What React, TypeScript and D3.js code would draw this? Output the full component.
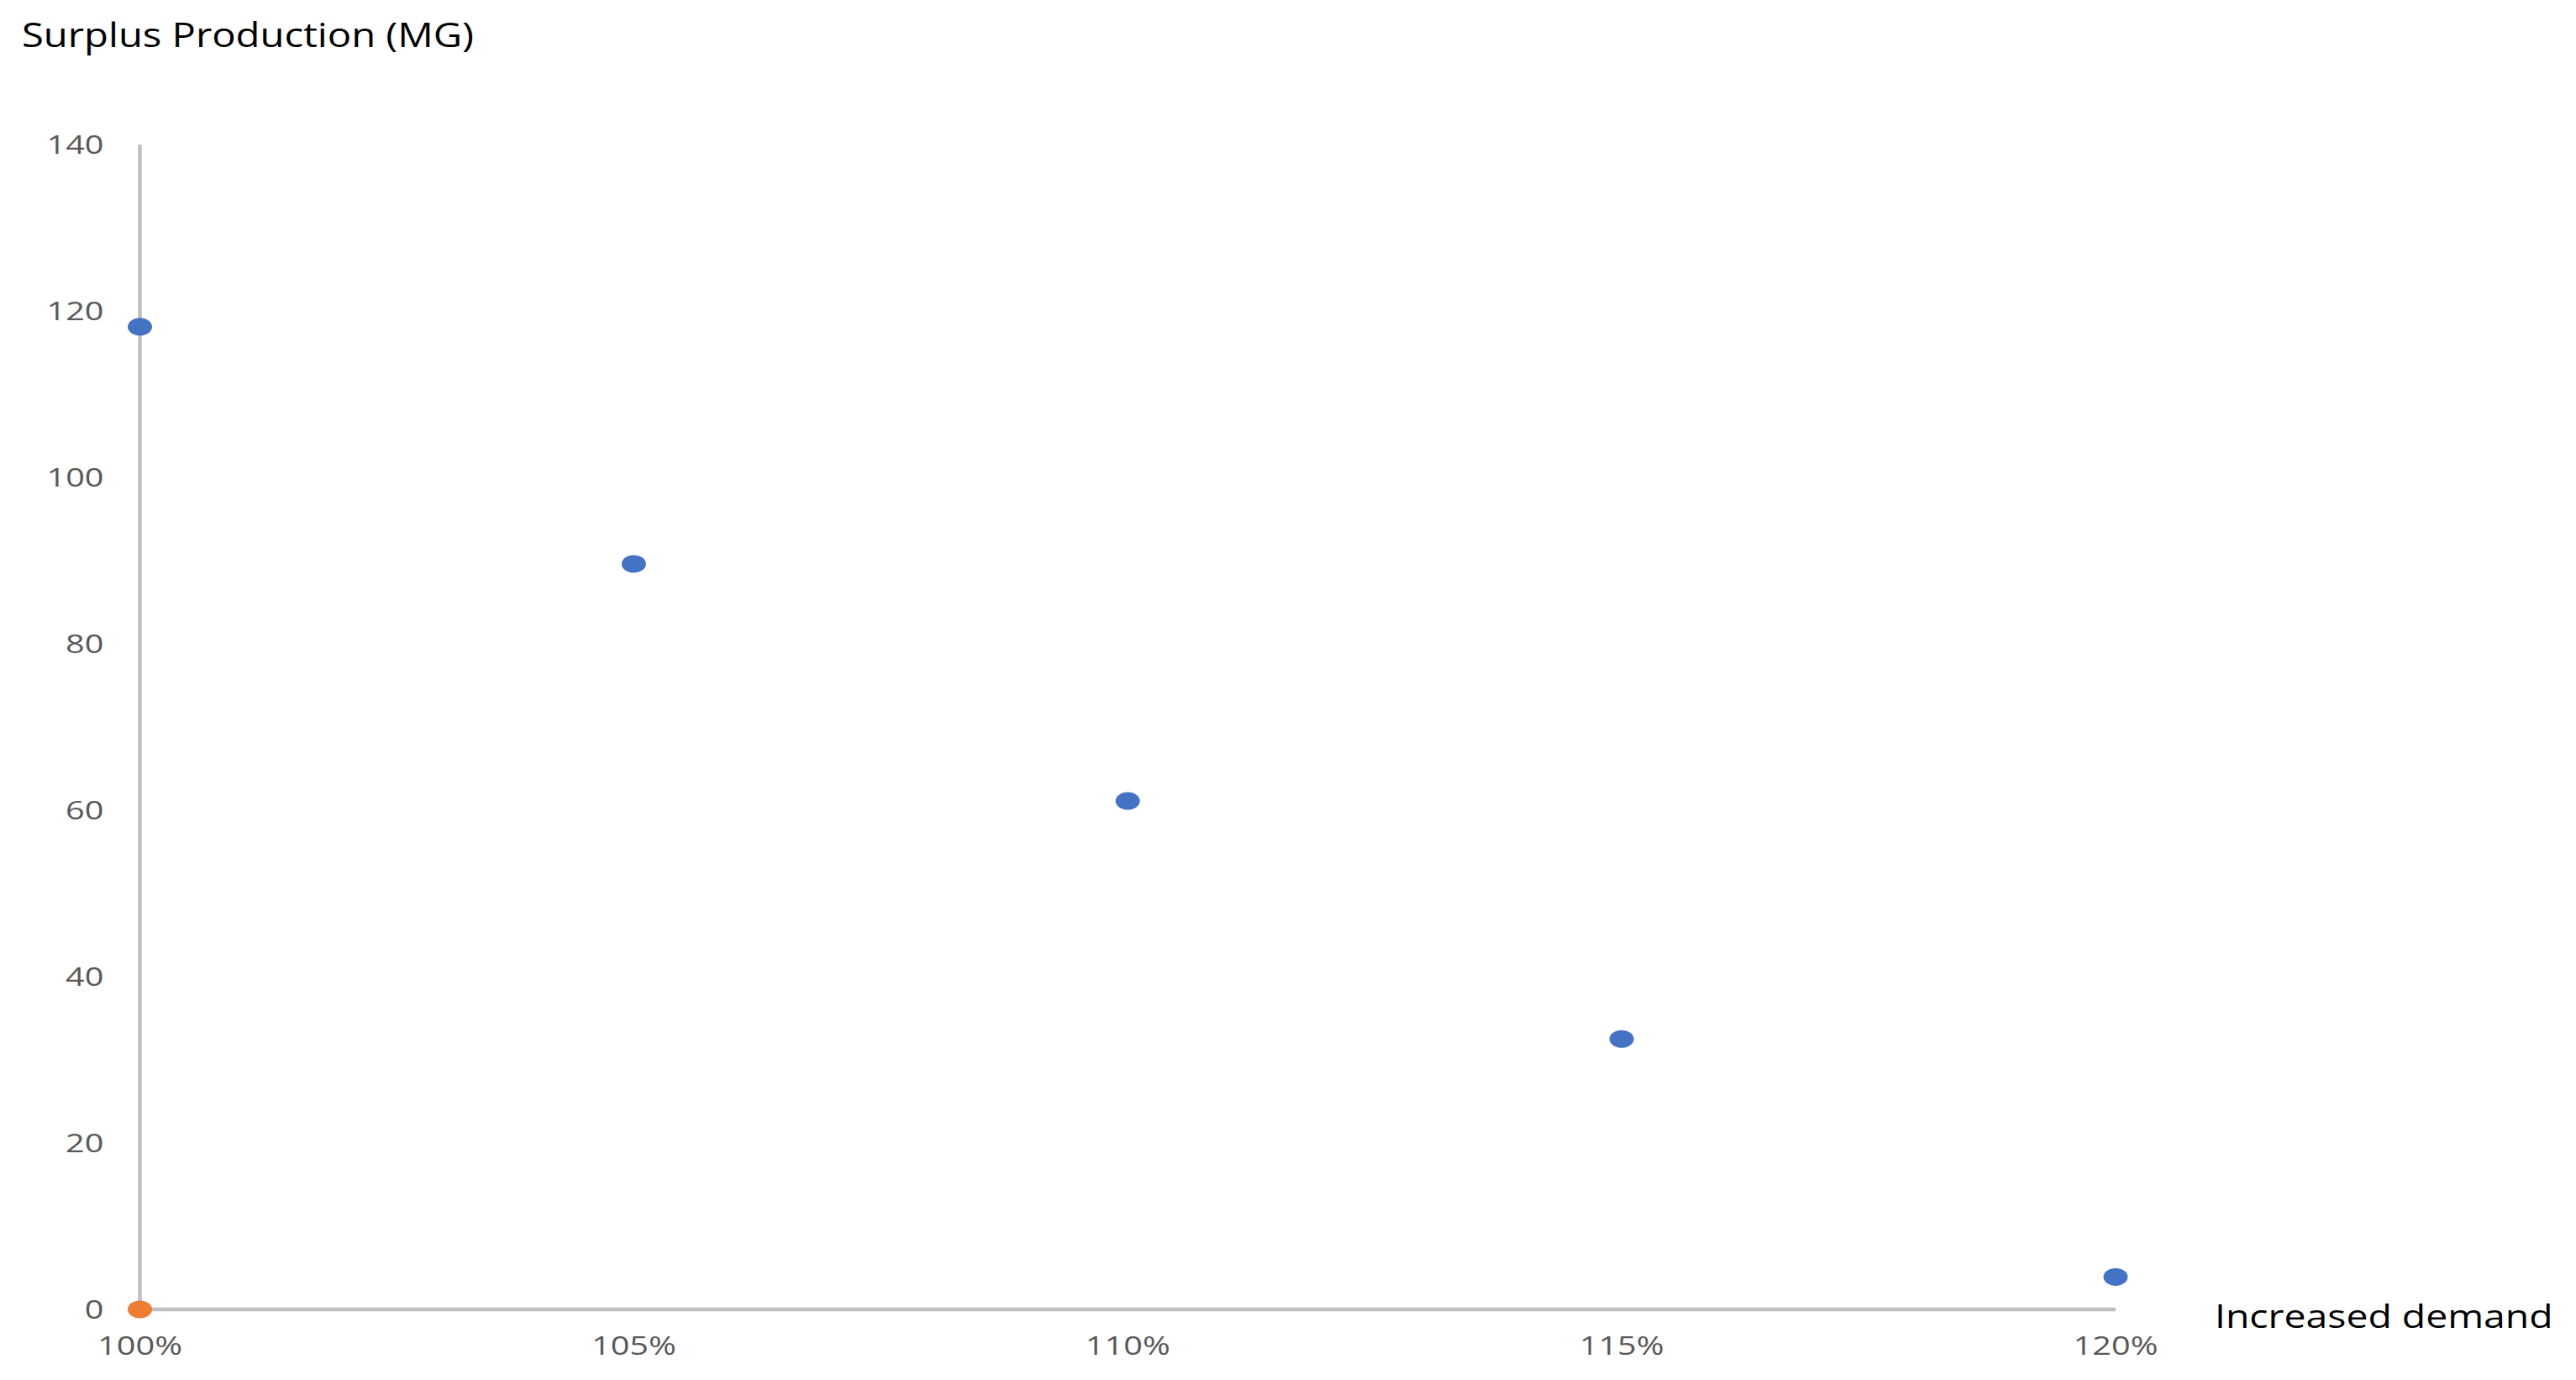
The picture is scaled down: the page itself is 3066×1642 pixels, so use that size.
import * as d3 from "d3";
import React, { useRef, useEffect } from "react";

const demandLevels = [100, 105, 110, 115, 120];
const surplusValues = [118.1, 89.6, 61.1, 32.5, 3.9];
const baselineDemand = [100];
const baselineValues = [0];
const yTicks = [0, 20, 40, 60, 80, 100, 120, 140];
const xTicks = [100, 105, 110, 115, 120];

const W = 3066;
const H = 1642;

// the source image is stretched sideways, so text and markers are too
const addText = (sel, x, y, sx, size, color, anchor, str) =>
  sel
    .append("text")
    .attr("transform", "translate(" + x + "," + y + ") scale(" + sx + ",1)")
    .style("font-family", "'Open Sans', 'Noto Sans', sans-serif")
    .style("font-size", size + "px")
    .style("fill", color)
    .style("text-anchor", anchor)
    .text(str);

const draw = (node) => {
  const margin = { top: 172, right: 548, bottom: 84, left: 166.5 };
  const svg = d3.select(node);
  svg.selectAll("*").remove();

  const x = d3
    .scaleLinear()
    .domain([100, 120])
    .range([margin.left, W - margin.right]);

  const y = d3
    .scaleLinear()
    .domain([0, 140])
    .range([H - margin.bottom, margin.top]);

  const axisColor = "#bfbfbf";
  const labelColor = "#595959";

  addText(svg, 26, 56, 1.18, 40, "#000", "start", "Surplus Production (MG)");
  addText(svg, 2636, 1580, 1.22, 38, "#000", "start", "Increased demand");

  // axis lines
  svg
    .append("line")
    .attr("x1", x(100))
    .attr("x2", x(100))
    .attr("y1", y(140))
    .attr("y2", y(0))
    .style("stroke", axisColor)
    .style("stroke-width", 4.5);

  svg
    .append("line")
    .attr("x1", x(100))
    .attr("x2", x(120))
    .attr("y1", y(0))
    .attr("y2", y(0))
    .style("stroke", axisColor)
    .style("stroke-width", 4.5);

  // y tick labels
  const gy = svg.append("g");
  yTicks.forEach((d) => {
    addText(gy, x(100) - 43, y(d) + 11, 1.28, 31, labelColor, "end", d);
  });

  // x tick labels
  const gx = svg.append("g");
  xTicks.forEach((d) => {
    addText(gx, x(d), 1612, 1.28, 31, labelColor, "middle", d + "%");
  });

  // blue series
  svg
    .append("g")
    .selectAll("ellipse")
    .data(demandLevels)
    .join("ellipse")
    .attr("cx", (d) => x(d))
    .attr("cy", (d, i) => y(surplusValues[i]))
    .attr("rx", 14.5)
    .attr("ry", 10.5)
    .style("fill", "#4472c4");

  // orange series
  svg
    .append("g")
    .selectAll("ellipse")
    .data(baselineDemand)
    .join("ellipse")
    .attr("cx", (d) => x(d))
    .attr("cy", (d, i) => y(baselineValues[i]))
    .attr("rx", 14.5)
    .attr("ry", 10.5)
    .style("fill", "#ed7d31");
};

export default function App() {
  const ref = useRef(null);

  useEffect(() => {
    draw(ref.current);
  }, []);

  return (
    <svg
      ref={ref}
      width={W}
      height={H}
      style={{ position: "absolute", left: 0, top: 0, display: "block", background: "#fff" }}
    ></svg>
  );
}
